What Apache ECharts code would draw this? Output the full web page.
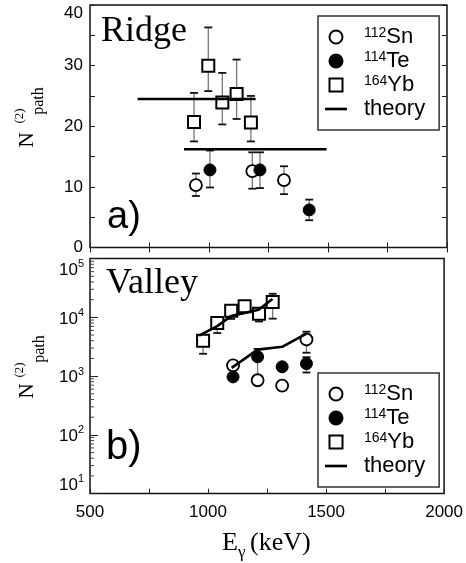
<!DOCTYPE html>
<html><head><meta charset="utf-8">
<script src="https://cdn.jsdelivr.net/npm/echarts@6/dist/echarts.min.js"></script>
<style>html,body{margin:0;padding:0;background:#fff}#c{width:466px;height:563px}</style>
</head><body><div id="c"></div>
<script>
// ---------- data ----------
const xTickLabels = [500, 1000, 1500, 2000];
const ridgeTickLabels = [0, 10, 20, 30, 40];
const isotopes = { Sn: '112', Te: '114', Yb: '164' };
const legendNames = ['Sn', 'Te', 'Yb', 'theory'];

// (a) Ridge
const ridgeSnE = [945, 1182, 1315];
const ridgeSn = [10.3, 12.6, 11.1];
const ridgeSnLo = [8.5, 9.7, 8.8];
const ridgeSnHi = [12.2, 15.7, 13.4];
const ridgeTeE = [1004, 1214, 1421];
const ridgeTe = [12.8, 12.8, 6.2];
const ridgeTeLo = [9.9, 9.8, 4.5];
const ridgeTeHi = [16.0, 15.7, 7.9];
const ridgeYbE = [937, 997, 1056, 1116, 1176];
const ridgeYb = [20.7, 30.0, 23.9, 25.3, 20.6];
const ridgeYbLo = [17.5, 25.8, 20.3, 21.2, 17.5];
const ridgeYbHi = [25.5, 36.3, 28.8, 31.0, 25.0];
const ridgeTheoryYbE = [700, 1196];
const ridgeTheoryYb = [24.5, 24.5];
const ridgeTheorySnE = [895, 1494];
const ridgeTheorySn = [16.2, 16.2];

// (b) Valley
const valleySnE = [1106, 1210, 1314, 1417];
const valleySn = [1520, 850, 690, 4200];
const valleySnErrE = [1417];
const valleySnLo = [2500];
const valleySnHi = [5700];
const valleyTeE = [1106, 1210, 1314, 1417];
const valleyTe = [970, 2130, 1440, 1630];
const valleyTeErrE = [1210, 1417];
const valleyTeLo = [950, 1150];
const valleyTeHi = [2900, 2100];
const valleyYbE = [979, 1039, 1098, 1155, 1216, 1274];
const valleyYb = [4000, 8000, 13000, 15500, 11500, 18200];
const valleyYbLo = [2400, 5400, 9400, 13500, 8500, 9500];
const valleyYbHi = [4800, 9500, 15000, 17500, 13500, 25200];
const valleyTheoryYbE = [962, 1039, 1097, 1155, 1214, 1273];
const valleyTheoryYb = [4900, 7100, 10500, 11900, 13500, 20600];
const valleyTheorySnE = [1100, 1210, 1314, 1417];
const valleyTheorySn = [1380, 2820, 3150, 5300];

// log-axis minor ticks
const minorMultipliers = [2, 3, 4, 5, 6, 7, 8, 9];
const decades = [10, 100, 1000, 10000];

// ---------- helpers ----------
const zip = (xs, ys) => xs.map((x, i) => [x, ys[i]]);
const zip3 = (xs, lo, hi) => xs.map((x, i) => [x, lo[i], hi[i]]);
const SANS = 'Liberation Sans';
const SERIF = 'Liberation Serif';

function errRender(params, api) {
  const x = api.value(0), lo = api.value(1), hi = api.value(2);
  const a = api.coord([x, lo]), b = api.coord([x, hi]);
  const w = 4;
  return {
    type: 'group', children: [
      { type: 'line', shape: { x1: a[0], y1: a[1], x2: b[0], y2: b[1] }, style: { stroke: '#777', lineWidth: 1.3 } },
      { type: 'line', shape: { x1: a[0] - w, y1: a[1], x2: a[0] + w, y2: a[1] }, style: { stroke: '#111', lineWidth: 1.8 } },
      { type: 'line', shape: { x1: b[0] - w, y1: b[1], x2: b[0] + w, y2: b[1] }, style: { stroke: '#111', lineWidth: 1.8 } }
    ]
  };
}
function minorTickRender(params, api) {
  const v = api.value(0);
  const p = api.coord([500, v]);
  return { type: 'line', shape: { x1: p[0], y1: p[1], x2: p[0] + 4, y2: p[1] }, style: { stroke: '#444', lineWidth: 1 } };
}
const minorTickData = [];
decades.forEach(d => minorMultipliers.forEach(m => minorTickData.push([m * d])));

const snStyle = { color: '#fff', borderColor: '#000', borderWidth: 1.8, opacity: 1 };
const teStyle = { color: '#000', borderColor: '#000', borderWidth: 1, opacity: 1 };
const ybStyle = { color: '#fff', borderColor: '#000', borderWidth: 2, opacity: 1 };
const theoryLine = { color: '#000', width: 2.6 };

function legendCfg(left, top) {
  return {
    left: left, top: top, orient: 'vertical',
    data: [
      { name: 'Sn', icon: 'circle' },
      { name: 'Te', icon: 'circle' },
      { name: 'Yb', icon: 'path://M0,0H10V10H0Z' },
      { name: 'theory', icon: 'path://M0,0H10V1.2H0Z' }
    ],
    selectedMode: false,
    symbolKeepAspect: true,
    borderColor: '#333', borderWidth: 1.5, borderRadius: 0,
    padding: [10, 14, 10, 7],
    itemGap: 2, itemWidth: 22, itemHeight: 13,
    formatter: n => isotopes[n] ? '{s|' + isotopes[n] + '}{n|' + n + '}' : '{n|' + n + '}',
    textStyle: {
      fontFamily: SANS, fontSize: 22, color: '#000', padding: [0, 0, 0, 12],
      rich: {
        s: { fontFamily: SANS, fontSize: 14, lineHeight: 14, verticalAlign: 'top', color: '#000' },
        n: { fontFamily: SANS, fontSize: 22, lineHeight: 22, verticalAlign: 'bottom', color: '#000' }
      }
    }
  };
}

const tickCol = '#222';
const option = {
  animation: false,
  backgroundColor: '#fff',
  grid: [
    { left: 90, top: 5, width: 357, height: 242.5, show: true, borderColor: '#111', borderWidth: 1.5, backgroundColor: 'transparent' },
    { left: 90, top: 258.6, width: 357, height: 235, show: true, borderColor: '#111', borderWidth: 1.5, backgroundColor: 'transparent' }
  ],
  legend: [legendCfg(318, 16), legendCfg(318, 373)],
  xAxis: [
    { gridIndex: 0, type: 'value', min: 500, max: 2000, interval: 250, position: 'bottom',
      axisLine: { show: false }, splitLine: { show: false },
      axisTick: { inside: true, length: 5, lineStyle: { color: tickCol, width: 1 } }, axisLabel: { show: false } },
    { gridIndex: 0, type: 'value', min: 500, max: 2000, interval: 250, position: 'top',
      axisLine: { show: false }, splitLine: { show: false },
      axisTick: { inside: true, length: 5, lineStyle: { color: tickCol, width: 1 } }, axisLabel: { show: false } },
    { gridIndex: 1, type: 'value', min: 500, max: 2000, interval: 250, position: 'bottom',
      axisLine: { show: false }, splitLine: { show: false },
      axisTick: { inside: true, length: 5, lineStyle: { color: tickCol, width: 1 } },
      axisLabel: { margin: 10, fontFamily: SANS, fontSize: 17, color: '#000',
        formatter: v => xTickLabels.indexOf(v) >= 0 ? String(v) : '' } }
  ],
  yAxis: [
    { gridIndex: 0, type: 'value', min: 0, max: 40, interval: 5, position: 'left',
      axisLine: { show: false }, splitLine: { show: false },
      axisTick: { inside: true, length: 5, lineStyle: { color: tickCol, width: 1 } },
      axisLabel: { margin: 7, fontFamily: SANS, fontSize: 17, color: '#000', verticalAlignMaxLabel: 'top',
        formatter: v => ridgeTickLabels.indexOf(v) >= 0 ? String(v) : '' } },
    { gridIndex: 0, type: 'value', min: 0, max: 40, interval: 5, position: 'right',
      axisLine: { show: false }, splitLine: { show: false },
      axisTick: { inside: true, length: 5, lineStyle: { color: tickCol, width: 1 } }, axisLabel: { show: false } },
    { gridIndex: 1, type: 'log', logBase: 10, min: 10, max: 100000, splitNumber: 4, position: 'left',
      axisLine: { show: false }, splitLine: { show: false },
      axisTick: { inside: true, length: 8, lineStyle: { color: tickCol, width: 1 } },
      axisLabel: { margin: 6, fontFamily: SANS, fontSize: 17, color: '#000',
        verticalAlignMaxLabel: 'top', verticalAlignMinLabel: 'bottom',
        formatter: v => '{b|10}{s|' + Math.round(Math.log10(v)) + '}',
        rich: {
          b: { fontFamily: SANS, fontSize: 17, lineHeight: 20, verticalAlign: 'bottom', color: '#000' },
          s: { fontFamily: SANS, fontSize: 11, lineHeight: 11, verticalAlign: 'top', color: '#000' }
        } } }
  ],
  series: [
    // ---- Ridge ----
    { type: 'custom', name: 'errRidge', xAxisIndex: 0, yAxisIndex: 0, z: 1, renderItem: errRender,
      encode: { x: 0, y: [1, 2] },
      data: zip3(ridgeSnE, ridgeSnLo, ridgeSnHi).concat(zip3(ridgeTeE, ridgeTeLo, ridgeTeHi), zip3(ridgeYbE, ridgeYbLo, ridgeYbHi)) },
    { type: 'scatter', name: 'Sn', xAxisIndex: 0, yAxisIndex: 0, z: 2, symbol: 'circle', symbolSize: 12, itemStyle: snStyle, data: zip(ridgeSnE, ridgeSn) },
    { type: 'scatter', name: 'Te', xAxisIndex: 0, yAxisIndex: 0, z: 2, symbol: 'circle', symbolSize: 12, itemStyle: teStyle, data: zip(ridgeTeE, ridgeTe) },
    { type: 'scatter', name: 'Yb', xAxisIndex: 0, yAxisIndex: 0, z: 2, symbol: 'rect', symbolSize: 12, itemStyle: ybStyle, data: zip(ridgeYbE, ridgeYb) },
    { type: 'line', name: 'theory', xAxisIndex: 0, yAxisIndex: 0, z: 3, symbol: 'none', lineStyle: theoryLine, itemStyle: { color: '#000' }, data: zip(ridgeTheoryYbE, ridgeTheoryYb) },
    { type: 'line', name: 'theory', xAxisIndex: 0, yAxisIndex: 0, z: 3, symbol: 'none', lineStyle: theoryLine, itemStyle: { color: '#000' }, data: zip(ridgeTheorySnE, ridgeTheorySn) },
    // ---- Valley ----
    { type: 'custom', name: 'minorTicks', xAxisIndex: 2, yAxisIndex: 2, z: 1, renderItem: minorTickRender,
      encode: { y: 0 }, data: minorTickData },
    { type: 'custom', name: 'errValley', xAxisIndex: 2, yAxisIndex: 2, z: 1, renderItem: errRender,
      encode: { x: 0, y: [1, 2] },
      data: zip3(valleySnErrE, valleySnLo, valleySnHi).concat(zip3(valleyTeErrE, valleyTeLo, valleyTeHi), zip3(valleyYbE, valleyYbLo, valleyYbHi)) },
    { type: 'scatter', name: 'Sn', xAxisIndex: 2, yAxisIndex: 2, z: 2, symbol: 'circle', symbolSize: 12, itemStyle: snStyle, data: zip(valleySnE, valleySn) },
    { type: 'scatter', name: 'Te', xAxisIndex: 2, yAxisIndex: 2, z: 2, symbol: 'circle', symbolSize: 12, itemStyle: teStyle, data: zip(valleyTeE, valleyTe) },
    { type: 'scatter', name: 'Yb', xAxisIndex: 2, yAxisIndex: 2, z: 2, symbol: 'rect', symbolSize: 12, itemStyle: ybStyle, data: zip(valleyYbE, valleyYb) },
    { type: 'line', name: 'theory', xAxisIndex: 2, yAxisIndex: 2, z: 3, symbol: 'none', lineStyle: theoryLine, itemStyle: { color: '#000' }, data: zip(valleyTheoryYbE, valleyTheoryYb) },
    { type: 'line', name: 'theory', xAxisIndex: 2, yAxisIndex: 2, z: 3, symbol: 'none', lineStyle: theoryLine, itemStyle: { color: '#000' }, data: zip(valleyTheorySnE, valleyTheorySn) }
  ],
  graphic: [
    { type: 'text', left: 101, top: 14, style: { text: 'Ridge', font: '36px ' + SERIF, fill: '#000' } },
    { type: 'text', left: 106, top: 266, style: { text: 'Valley', font: '36px ' + SERIF, fill: '#000' } },
    { type: 'text', left: 107, top: 199, style: { text: 'a)', font: '38px ' + SANS, fill: '#000' } },
    { type: 'text', left: 106, top: 428, style: { text: 'b)', font: '40px ' + SANS, fill: '#000' } },
    // y titles (rotated)
    { type: 'text', x: 27, y: 140, rotation: Math.PI / 2, style: { text: 'N', font: '21px ' + SERIF, fill: '#000', align: 'center', verticalAlign: 'middle' } },
    { type: 'text', x: 20, y: 116, rotation: Math.PI / 2, style: { text: '(2)', font: '13px ' + SERIF, fill: '#000', align: 'center', verticalAlign: 'middle' } },
    { type: 'text', x: 39, y: 101, rotation: Math.PI / 2, style: { text: 'path', font: '16px ' + SERIF, fill: '#000', align: 'center', verticalAlign: 'middle' } },
    { type: 'text', x: 27, y: 391, rotation: Math.PI / 2, style: { text: 'N', font: '21px ' + SERIF, fill: '#000', align: 'center', verticalAlign: 'middle' } },
    { type: 'text', x: 20, y: 370, rotation: Math.PI / 2, style: { text: '(2)', font: '13px ' + SERIF, fill: '#000', align: 'center', verticalAlign: 'middle' } },
    { type: 'text', x: 40, y: 349, rotation: Math.PI / 2, style: { text: 'path', font: '16px ' + SERIF, fill: '#000', align: 'center', verticalAlign: 'middle' } },
    // x title
    { type: 'text', x: 222, y: 543, style: { text: 'E', font: '26px ' + SERIF, fill: '#000', align: 'left', verticalAlign: 'middle' } },
    { type: 'text', x: 238, y: 553, style: { text: 'γ', font: '17px ' + SERIF, fill: '#000', align: 'left', verticalAlign: 'middle' } },
    { type: 'text', x: 250, y: 543, style: { text: '(keV)', font: '26px ' + SERIF, fill: '#000', align: 'left', verticalAlign: 'middle' } }
  ]
};
const chart = echarts.init(document.getElementById('c'), null, { renderer: 'canvas' });
chart.setOption(option);
</script>
</body></html>
